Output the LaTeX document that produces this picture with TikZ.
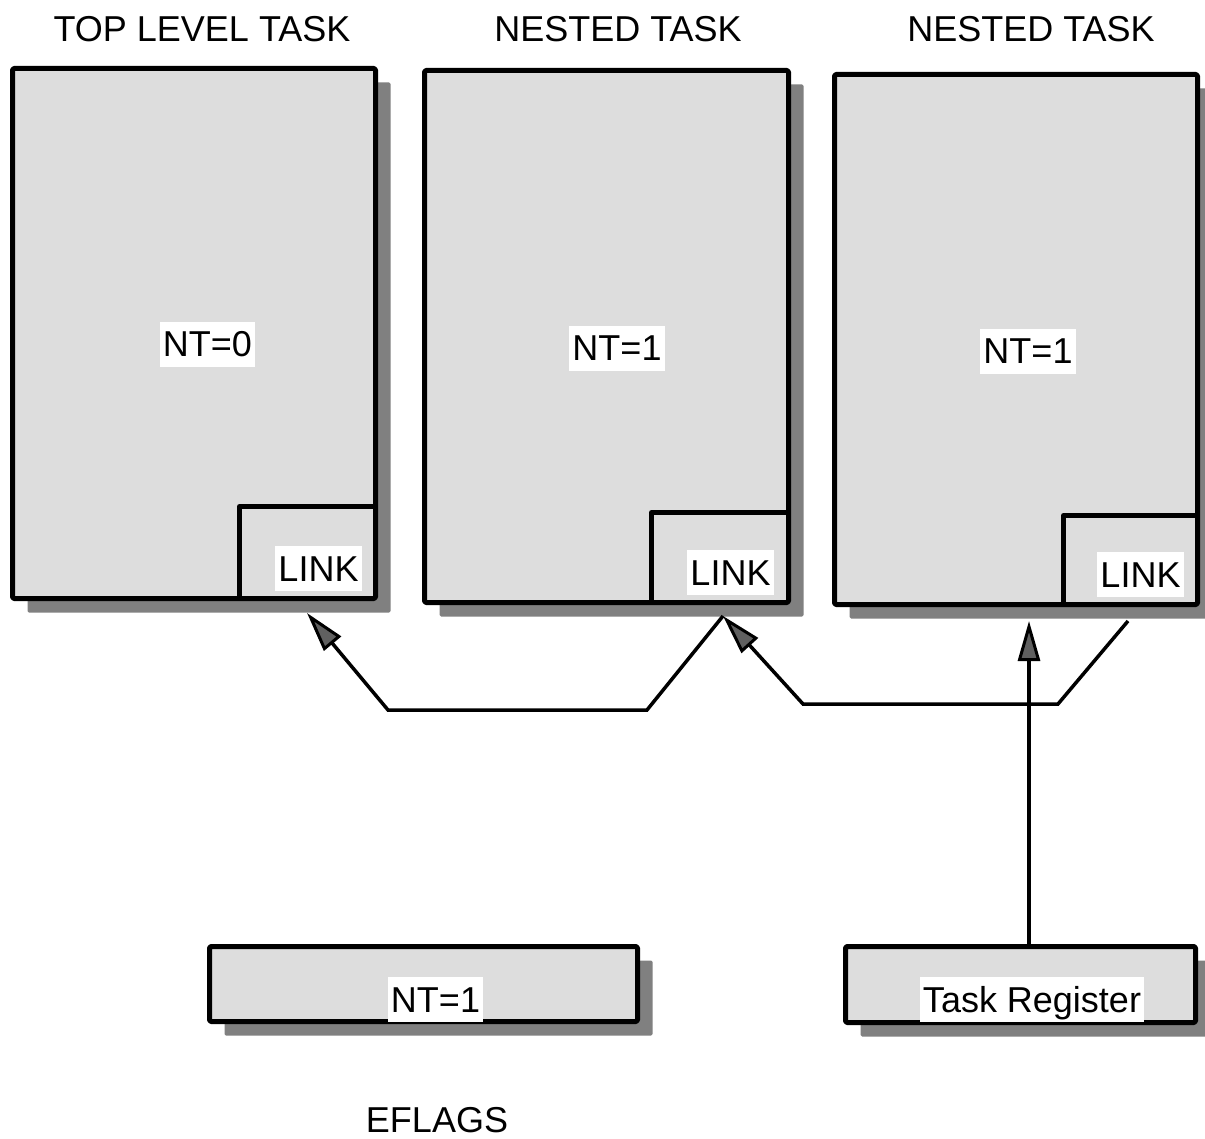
\documentclass[tikz,border=0pt]{standalone}
\usepackage{fontspec}
\setmainfont{Liberation Sans}
\usetikzlibrary{arrows.meta,shadows}
\definecolor{boxfill}{HTML}{DDDDDD}
\definecolor{shadowgray}{HTML}{808080}
\definecolor{tipgray}{HTML}{606060}
\begin{document}
\begin{tikzpicture}[x=1pt,y=-1pt,
  every node/.style={font=\fontsize{36}{40}\selectfont},
  taskbox/.style={draw=black,fill=boxfill,line width=5pt,line join=round,rounded corners=1.5pt,
    inner sep=0pt,outer sep=0pt,
    drop shadow={shadow xshift=15pt,shadow yshift=-14pt,fill=shadowgray,opacity=1}},
  linkline/.style={draw=black,line width=5pt,line join=round},
  lbl/.style={fill=white,anchor=base,inner xsep=3pt,inner ysep=2pt,text height=33pt,text depth=8pt},
  title/.style={anchor=base,inner sep=0pt},
  conn/.style={draw=black,line width=3.5pt,line join=miter,
    -{Triangle[length=40pt,width=22pt,fill=tipgray,line width=3pt]}},
  plain/.style={draw=black,line width=3.5pt,line join=miter}
]
\useasboundingbox (0,0) rectangle (1205,1139);

% titles
\node[title] (ttl1) at (202,42) {TOP LEVEL TASK};
\node[title] (ttl2) at (618,42) {NESTED TASK};
\node[title] (ttl3) at (1031,42) {NESTED TASK};

% task boxes
\node[taskbox,minimum width=363pt,minimum height=530pt] (t1) at (194,333.5) {};
\node[taskbox,minimum width=364pt,minimum height=532pt] (t2) at (606.5,336.5) {};
\node[taskbox,minimum width=363pt,minimum height=530pt] (t3) at (1016,339.5) {};

% link sub-boxes
\draw[linkline] ([xshift=-136pt]t1.south east) |- ([yshift=92pt]t1.south east);
\draw[linkline] ([xshift=-137pt]t2.south east) |- ([yshift=90pt]t2.south east);
\draw[linkline] ([xshift=-134pt]t3.south east) |- ([yshift=89pt]t3.south east);

% labels inside tasks
\node[lbl] (nt0) at (207.5,357) {NT=0};
\node[lbl] (nt1a) at (617,361) {NT=1};
\node[lbl] (nt1b) at (1028,364) {NT=1};
\node[lbl] (link1) at (318.5,581) {LINK};
\node[lbl] (link2) at (730.5,585) {LINK};
\node[lbl] (link3) at (1140.5,587) {LINK};

% bottom boxes
\node[taskbox,minimum width=428pt,minimum height=75pt] (eflags) at (423.5,984) {};
\node[taskbox,minimum width=350pt,minimum height=76pt] (treg) at (1020.5,984.5) {};
\node[lbl] (ntflag) at (435.5,1012) {NT=1};
\node[lbl] (trlbl) at (1032,1012) {Task Register};
\node[title] (eflagsttl) at (437,1132) {EFLAGS};

% connector end points
\coordinate (l1) at (307,613);
\coordinate (l2) at (723,616);
\coordinate (l3) at (1128,621);
\coordinate (l3up) at (1029,621);
\coordinate (trtop) at (1029,946.5);

% connectors
\draw[conn] (l2) -- (647,710) -- (388,710) -- (l1);
\draw[conn] (l3) -- (1058,704) -- (803,704) -- (l2);
\draw[conn] (trtop) -- (l3up);
\end{tikzpicture}
\end{document}
